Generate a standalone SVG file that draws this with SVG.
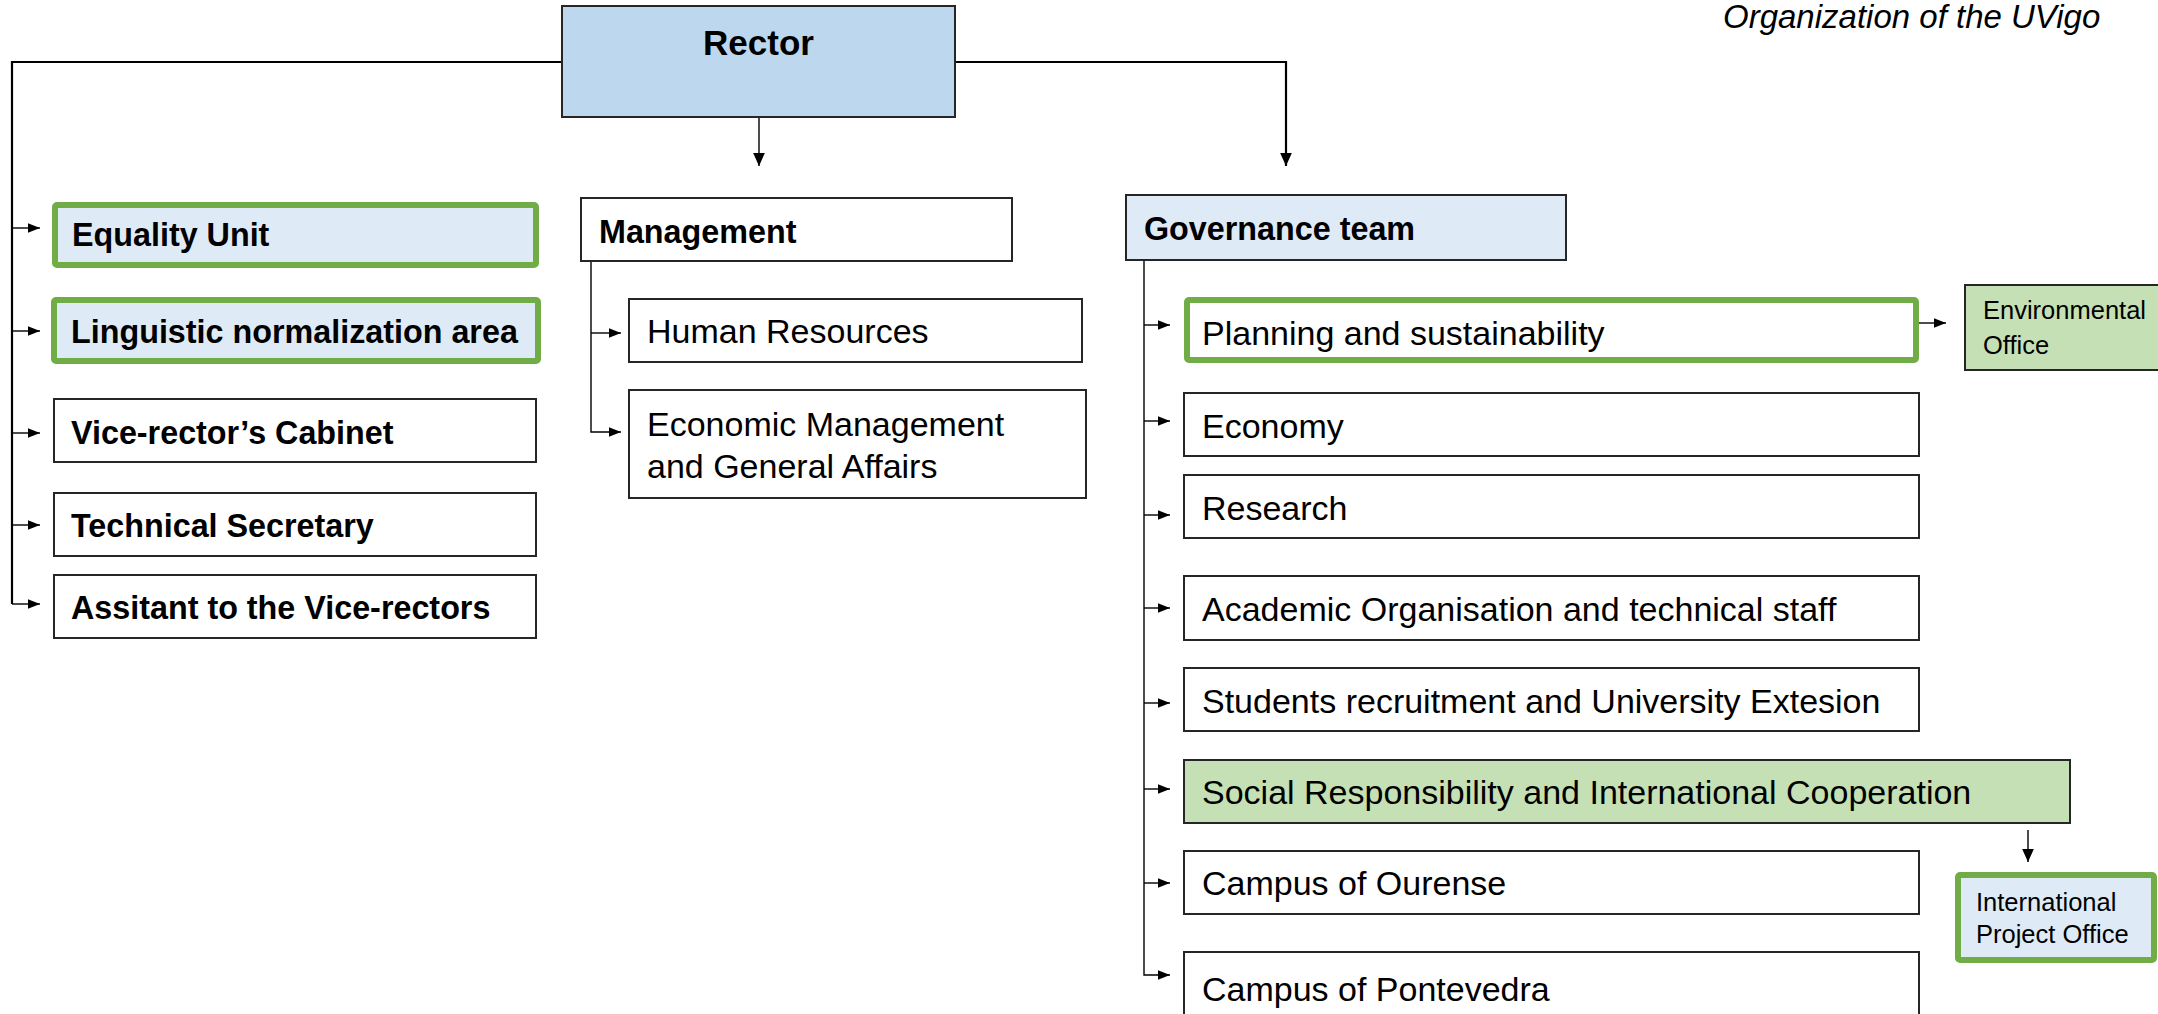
<svg xmlns="http://www.w3.org/2000/svg" width="2158" height="1014" viewBox="0 0 2158 1014">
<style>
.box{stroke:#262626;stroke-width:2;fill:#fff}
.blue{fill:#DEEBF7}
.rector{fill:#BDD7EE}
.green{fill:#C5E0B4}
.gb{stroke:#70AD47;stroke-width:6}
text{font-family:"Liberation Sans",Arial,sans-serif;fill:#000}
.b{font-weight:bold;font-size:32.3px}
.r{font-size:34px}
.s{font-size:25.5px}
.t{font-style:italic;font-size:33px}
.c{fill:none;stroke:#000;stroke-width:1.4}
.ct{fill:none;stroke:#000;stroke-width:2.2}
</style>
<defs>
<marker id="a" viewBox="0 0 10 10" refX="10" refY="5" markerWidth="12" markerHeight="12" markerUnits="userSpaceOnUse" orient="auto">
<path d="M0,1 L10,5 L0,9 Z" fill="#000"/>
</marker>
<marker id="ab" viewBox="0 0 10 10" refX="10" refY="5" markerWidth="13" markerHeight="13" markerUnits="userSpaceOnUse" orient="auto">
<path d="M0,0.5 L10,5 L0,9.5 Z" fill="#000"/>
</marker>
</defs>
<text class="t" x="1723" y="28">Organization of the UVigo</text>
<g id="connectors">
<path class="ct" d="M562,62 H12 V604"/>
<path class="ct" d="M955,62 H1286 V166" marker-end="url(#ab)"/>
<path class="c" d="M759,117 V166" marker-end="url(#ab)"/>
<path class="c" d="M12,228 H40" marker-end="url(#a)"/>
<path class="c" d="M12,331 H40" marker-end="url(#a)"/>
<path class="c" d="M12,433 H40" marker-end="url(#a)"/>
<path class="c" d="M12,525 H40" marker-end="url(#a)"/>
<path class="c" d="M12,604 H40" marker-end="url(#a)"/>
<path class="c" d="M591,261 V432 H621" marker-end="url(#a)"/>
<path class="c" d="M591,333 H621" marker-end="url(#a)"/>
<path class="c" d="M1144,260 V975 H1170" marker-end="url(#a)"/>
<path class="c" d="M1144,325 H1170" marker-end="url(#a)"/>
<path class="c" d="M1144,421 H1170" marker-end="url(#a)"/>
<path class="c" d="M1144,515 H1170" marker-end="url(#a)"/>
<path class="c" d="M1144,608 H1170" marker-end="url(#a)"/>
<path class="c" d="M1144,703 H1170" marker-end="url(#a)"/>
<path class="c" d="M1144,789 H1170" marker-end="url(#a)"/>
<path class="c" d="M1144,883 H1170" marker-end="url(#a)"/>
<path class="c" d="M1919,323 H1946" marker-end="url(#a)"/>
<path class="c" d="M2028,830 V862" marker-end="url(#ab)"/>
</g>
<g id="rector"><rect class="box rector" x="562" y="6" width="393" height="111"/><text class="b" style="font-size:35px" x="758.5" y="55" text-anchor="middle">Rector</text></g>
<g id="equality"><rect class="box blue gb" x="55" y="205" width="481" height="60" rx="2"/><text class="b" x="72" y="246">Equality Unit</text></g>
<g id="linguistic"><rect class="box blue gb" x="54" y="300" width="484" height="61" rx="2"/><text class="b" x="71" y="343">Linguistic normalization area</text></g>
<g id="vicecabinet"><rect class="box" x="54" y="399" width="482" height="63"/><text class="b" x="71" y="444">Vice-rector’s Cabinet</text></g>
<g id="techsec"><rect class="box" x="54" y="493" width="482" height="63"/><text class="b" x="71" y="537">Technical Secretary</text></g>
<g id="assistant"><rect class="box" x="54" y="575" width="482" height="63"/><text class="b" x="71" y="619">Assitant to the Vice-rectors</text></g>
<g id="management"><rect class="box" x="581" y="198" width="431" height="63"/><text class="b" x="599" y="243">Management</text></g>
<g id="hr"><rect class="box" x="629" y="299" width="453" height="63"/><text class="r" x="647" y="343">Human Resources</text></g>
<g id="econmgmt"><rect class="box" x="629" y="390" width="457" height="108"/><text class="r" x="647" y="436">Economic Management</text><text class="r" x="647" y="478">and General Affairs</text></g>
<g id="governance"><rect class="box blue" x="1126" y="195" width="440" height="65"/><text class="b" x="1144" y="240">Governance team</text></g>
<g id="planning"><rect class="box gb" x="1187" y="300" width="729" height="60" rx="2"/><text class="r" x="1202" y="345">Planning and sustainability</text></g>
<g id="envoffice"><rect class="box green" x="1965" y="285" width="200" height="85"/><text class="s" x="1983" y="319">Environmental</text><text class="s" x="1983" y="354">Office</text></g>
<g id="economy"><rect class="box" x="1184" y="393" width="735" height="63"/><text class="r" x="1202" y="438">Economy</text></g>
<g id="research"><rect class="box" x="1184" y="475" width="735" height="63"/><text class="r" x="1202" y="520">Research</text></g>
<g id="academic"><rect class="box" x="1184" y="576" width="735" height="64"/><text class="r" x="1202" y="621">Academic Organisation and technical staff</text></g>
<g id="students"><rect class="box" x="1184" y="668" width="735" height="63"/><text class="r" x="1202" y="713">Students recruitment and University Extesion</text></g>
<g id="social"><rect class="box green" x="1184" y="760" width="886" height="63"/><text class="r" x="1202" y="804">Social Responsibility and International Cooperation</text></g>
<g id="ourense"><rect class="box" x="1184" y="851" width="735" height="63"/><text class="r" x="1202" y="895">Campus of Ourense</text></g>
<g id="pontevedra"><rect class="box" x="1184" y="952" width="735" height="70"/><text class="r" x="1202" y="1001">Campus of Pontevedra</text></g>
<g id="ipo"><rect class="box blue gb" x="1958" y="875" width="196" height="85" rx="2"/><text class="s" x="1976" y="911">International</text><text class="s" x="1976" y="943">Project Office</text></g>
</svg>
